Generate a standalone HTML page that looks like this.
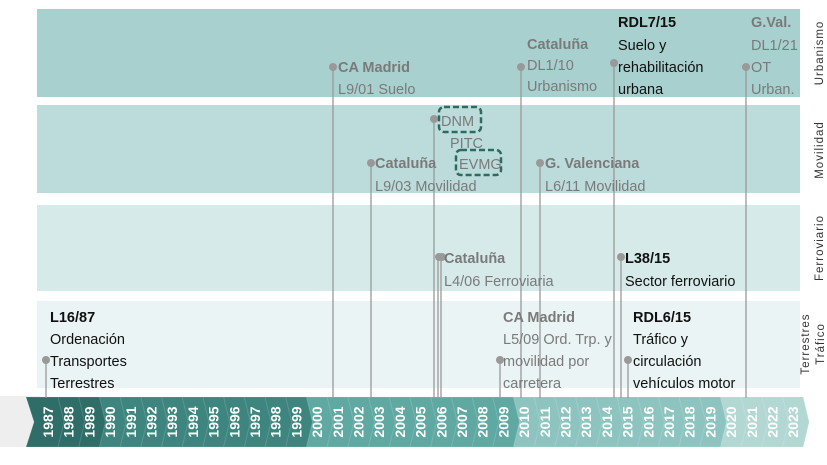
<!DOCTYPE html>
<html><head><meta charset="utf-8"><style>
html,body{margin:0;padding:0;background:#fff}
svg{display:block}
text{font-family:"Liberation Sans",sans-serif}
.g{fill:#7a7a7a;font-size:14.5px}
.gb{fill:#7a7a7a;font-size:14.5px;font-weight:bold}
.k{fill:#111;font-size:14.5px}
.kb{fill:#111;font-size:14.5px;font-weight:bold}
.side{fill:#333;font-size:11.5px;letter-spacing:1px}
.yr{fill:#fff;font-size:14px;font-weight:bold}
</style></head><body>
<svg width="827" height="465" viewBox="0 0 827 465" xmlns="http://www.w3.org/2000/svg">
<rect x="37" y="9" width="763" height="88" fill="#a8d0cf"/>
<rect x="37" y="105" width="763" height="88" fill="#bcdcdb"/>
<rect x="37" y="205" width="763" height="86" fill="#d7eaea"/>
<rect x="37" y="301" width="763" height="87" fill="#eaf4f4"/>
<text class="side" transform="translate(823,53) rotate(-90)" text-anchor="middle">Urbanismo</text>
<text class="side" transform="translate(823,150) rotate(-90)" text-anchor="middle">Movilidad</text>
<text class="side" transform="translate(823,248) rotate(-90)" text-anchor="middle">Ferroviario</text>
<text class="side" transform="translate(809,344) rotate(-90)" text-anchor="middle">Terrestres</text>
<text class="side" transform="translate(824,344) rotate(-90)" text-anchor="middle">Tráfico</text>
<rect x="0" y="396" width="40" height="51" fill="#eeeeee"/>
<g id="bar"></g>
<g stroke="#999" stroke-width="1.3" fill="none">
<line x1="46" y1="360" x2="46" y2="398"/>
<line x1="333" y1="67" x2="333" y2="398"/>
<line x1="371" y1="163" x2="371" y2="398"/>
<line x1="434" y1="119" x2="434" y2="398"/>
<line x1="438" y1="257" x2="438" y2="398"/>
<line x1="441" y1="257" x2="441" y2="398"/>
<line x1="500" y1="360" x2="500" y2="398"/>
<line x1="521" y1="67" x2="521" y2="398"/>
<line x1="540" y1="163" x2="540" y2="398"/>
<line x1="614" y1="63" x2="614" y2="398"/>
<line x1="621" y1="257" x2="621" y2="398"/>
<line x1="628" y1="360" x2="628" y2="398"/>
<line x1="746" y1="67" x2="746" y2="398"/>
</g>
<g fill="#999">
<circle cx="46" cy="360" r="4"/><circle cx="333" cy="67" r="4"/><circle cx="371" cy="163" r="4"/>
<circle cx="434" cy="119" r="4"/><circle cx="439" cy="257" r="4"/><circle cx="442" cy="257" r="4"/>
<circle cx="500" cy="360" r="4"/><circle cx="521" cy="67" r="4"/><circle cx="540" cy="163" r="4"/>
<circle cx="614" cy="63" r="4"/><circle cx="621" cy="257" r="4"/><circle cx="628" cy="360" r="4"/>
<circle cx="746" cy="67" r="4"/>
</g>
<text class="kb" x="50" y="322">L16/87</text>
<text class="k" x="50" y="344">Ordenación</text>
<text class="k" x="50" y="366">Transportes</text>
<text class="k" x="50" y="388">Terrestres</text>
<text class="gb" x="338" y="72">CA Madrid</text>
<text class="g" x="338" y="94">L9/01 Suelo</text>
<text class="gb" x="375" y="168">Cataluña</text>
<text class="g" x="375" y="191">L9/03 Movilidad</text>
<rect x="439" y="107" width="42" height="25" rx="5" fill="none" stroke="#2f6a5f" stroke-width="2.5" stroke-dasharray="6,3"/>
<text class="g" x="441" y="126">DNM</text>
<text class="g" x="450" y="148">PITC</text>
<rect x="456" y="150" width="45" height="25" rx="5" fill="none" stroke="#2f6a5f" stroke-width="2.5" stroke-dasharray="6,3"/>
<text class="g" x="459" y="169">EVMG</text>
<text class="gb" x="444" y="263">Cataluña</text>
<text class="g" x="444" y="286">L4/06 Ferroviaria</text>
<text class="gb" x="503" y="322">CA Madrid</text>
<text class="g" x="503" y="344">L5/09 Ord. Trp. y</text>
<text class="g" x="503" y="366">movilidad por</text>
<text class="g" x="503" y="388">carretera</text>
<text class="gb" x="527" y="49">Cataluña</text>
<text class="g" x="527" y="70">DL1/10</text>
<text class="g" x="527" y="91">Urbanismo</text>
<text class="gb" x="545" y="168">G. Valenciana</text>
<text class="g" x="545" y="191">L6/11 Movilidad</text>
<text class="kb" x="618" y="27">RDL7/15</text>
<text class="k" x="618" y="50">Suelo y</text>
<text class="k" x="618" y="72">rehabilitación</text>
<text class="k" x="618" y="94">urbana</text>
<text class="kb" x="625" y="263">L38/15</text>
<text class="k" x="625" y="286">Sector ferroviario</text>
<text class="kb" x="633" y="322">RDL6/15</text>
<text class="k" x="633" y="344">Tráfico y</text>
<text class="k" x="633" y="366">circulación</text>
<text class="k" x="633" y="388">vehículos motor</text>
<text class="gb" x="751" y="27">G.Val.</text>
<text class="g" x="751" y="50">DL1/21</text>
<text class="g" x="751" y="72">OT</text>
<text class="g" x="751" y="94">Urban.</text>
</svg>
<script>
var g=document.getElementById('bar'),s='';
var step=20.7,y0=397,y1=447,ym=422;
function col(y){if(y<=1989)return'#2f6e68';if(y<=1999)return'#3d857e';if(y<=2009)return'#5fa9a2';if(y<=2019)return'#8ec4bf';return'#b3d8d4';}
for(var i=36;i>=0;i--){var yr=1987+i,c=47+i*step,l=c-11,r=c+11;
var pts=(l-2)+','+y0+' '+r+','+y0+' '+(r+6)+','+ym+' '+r+','+y1+' '+(l-2)+','+y1+' '+(l+4)+','+ym;
if(i==0)pts=(l-10)+','+y0+' '+r+','+y0+' '+(r+6)+','+ym+' '+r+','+y1+' '+(l-10)+','+y1+' '+(l-2)+','+ym;
s+='<polygon points="'+pts+'" fill="'+col(yr)+'" stroke="rgba(255,255,255,0.15)" stroke-width="1"/>';}
for(var i=0;i<37;i++){var c=47+i*step;s+='<text class="yr" transform="translate('+(c+6)+',422) rotate(-90)" text-anchor="middle">'+(1987+i)+'</text>';}
g.innerHTML=s;
</script>
</body></html>
